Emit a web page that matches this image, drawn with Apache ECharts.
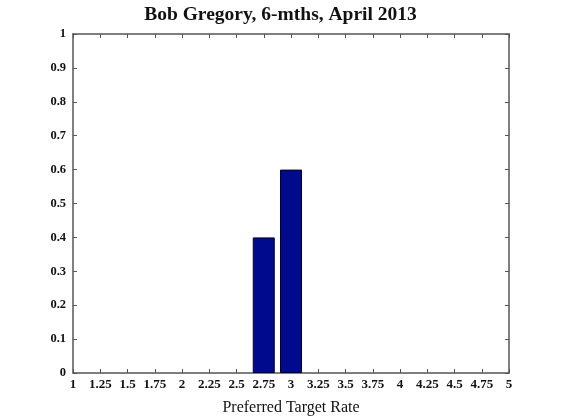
<!DOCTYPE html>
<html>
<head>
<meta charset="utf-8">
<script src="https://cdn.jsdelivr.net/npm/echarts@6/dist/echarts.min.js"></script>
<style>
  html, body { margin: 0; padding: 0; background: #fff; }
  #chart { width: 561px; height: 419px; }
</style>
</head>
<body>
<div id="chart"></div>
<script>
// data
const titleText = 'Bob Gregory, 6-mths, April 2013'
const xName = 'Preferred Target Rate'
const rates = [2.75, 3]
const shares = [0.4, 0.6]

const serif = 'Liberation Serif'
const lineCol = '#555'

let myChart = echarts.init(document.getElementById('chart'))

// box axes: bottom/left show labels, top/right only ticks
function xAxis(pos, labels) {
  return {
    type: 'value',
    position: pos,
    min: 1,
    max: 5,
    interval: 0.25,
    axisLine: { show: true, onZero: false, lineStyle: { color: lineCol, width: 1.5 } },
    axisTick: { show: true, inside: true, length: 4, lineStyle: { color: lineCol } },
    axisLabel: {
      show: labels,
      color: '#111',
      fontFamily: serif,
      fontWeight: 'bold',
      fontSize: 13,
      margin: 5,
    },
    splitLine: { show: false },
  }
}

function yAxis(pos, labels) {
  return {
    type: 'value',
    position: pos,
    min: 0,
    max: 1,
    interval: 0.1,
    axisLine: { show: true, lineStyle: { color: lineCol, width: 1.5 } },
    axisTick: { show: true, inside: true, length: 4, lineStyle: { color: lineCol } },
    axisLabel: {
      show: labels,
      color: '#111',
      fontFamily: serif,
      fontWeight: 'bold',
      fontSize: 12.5,
      margin: 7,
    },
    splitLine: { show: false },
  }
}

let bottomAxis = xAxis('bottom', true)
bottomAxis.name = xName
bottomAxis.nameLocation = 'middle'
bottomAxis.nameGap = 27
bottomAxis.nameTextStyle = { color: '#111', fontFamily: serif, fontSize: 16 }

let options = {
  animation: false,
  title: {
    text: titleText,
    left: 'center',
    top: 5,
    padding: [0, 0, 0, 0],
    textStyle: { color: '#111', fontFamily: serif, fontWeight: 'bold', fontSize: 19.5 },
  },
  grid: { left: 73, right: 52, top: 34, bottom: 46, outerBoundsMode: 'none' },
  xAxis: [bottomAxis, xAxis('top', false)],
  yAxis: [yAxis('left', true), yAxis('right', false)],
  series: [
    {
      type: 'bar',
      xAxisIndex: 0,
      yAxisIndex: 0,
      barWidth: 22,
      itemStyle: { color: '#000a8c', borderColor: '#000033', borderWidth: 1 },
      data: rates.map((r, i) => [r, shares[i]]),
    },
  ],
}

myChart.setOption(options)
</script>
</body>
</html>
